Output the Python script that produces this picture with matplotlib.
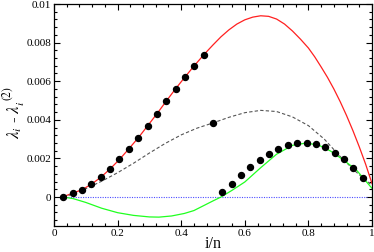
import matplotlib
matplotlib.use("Agg")
import matplotlib.pyplot as plt
from matplotlib.ticker import MultipleLocator, FuncFormatter

plt.rcParams['font.family'] = ['Liberation Serif', 'DejaVu Serif']
plt.rcParams['mathtext.fontset'] = 'stix'

n = 34
dot_i = list(range(1, 34))
dot_y = [0.00002, 0.0002, 0.00036, 0.00067, 0.00102, 0.00145, 0.00195, 0.00249,
         0.00307, 0.00368, 0.00432, 0.00497, 0.0056, 0.00622, 0.0068, 0.00737,
         0.00382, 0.00024, 0.00069, 0.00112, 0.00154, 0.0019, 0.00223, 0.00249,
         0.00268, 0.00278, 0.0028, 0.00275, 0.00257, 0.0023, 0.00197, 0.00152, 0.00097]

red_x = [0.029, 0.059, 0.088, 0.118, 0.147, 0.176, 0.206, 0.235, 0.265, 0.294, 0.324,
         0.353, 0.382, 0.412, 0.441, 0.471, 0.5, 0.525, 0.55, 0.575, 0.6, 0.625, 0.65,
         0.675, 0.7, 0.725, 0.75, 0.775, 0.8, 0.82, 0.84, 0.86, 0.88, 0.9, 0.92,
         0.94, 0.96, 0.98, 1.0]
red_y = [0.00002, 0.0002, 0.00038, 0.00067, 0.00102, 0.00145, 0.00195, 0.00249,
         0.00307, 0.00368, 0.00432, 0.00497, 0.0056, 0.00622, 0.0068, 0.00737,
         0.00788, 0.0083, 0.00866, 0.00896, 0.00918, 0.00932, 0.00939, 0.00936,
         0.00922, 0.00896, 0.0086, 0.00818, 0.00772, 0.00726, 0.00674, 0.0062,
         0.0056, 0.00494, 0.00422, 0.00344, 0.0026, 0.0017, 0.0007]

gray_x = [0.029, 0.06, 0.1, 0.15, 0.2, 0.25, 0.3, 0.35, 0.4, 0.45, 0.5, 0.55, 0.6,
          0.65, 0.7, 0.75, 0.8, 0.85, 0.9, 0.95, 1.0]
gray_y = [0.00001, 0.00015, 0.00043, 0.00082, 0.00126, 0.00175, 0.00228, 0.00278,
          0.00322, 0.00357, 0.00384, 0.00413, 0.00437, 0.00449, 0.00443, 0.00415,
          0.0037, 0.003, 0.0021, 0.0013, 0.0006]

green_x = [0.029, 0.06, 0.1, 0.15, 0.2, 0.25, 0.3, 0.33, 0.37, 0.41, 0.44, 0.47,
           0.5, 0.525, 0.56, 0.6, 0.65, 0.7, 0.75, 0.79, 0.83, 0.87, 0.91, 0.95, 1.0]
green_y = [0.0, -0.00008, -0.00028, -0.00058, -0.00081, -0.00095, -0.00103,
           -0.00104, -0.00098, -0.00085, -0.0007, -0.00045, -0.0002, 0.0, 0.00035,
           0.00078, 0.00152, 0.00222, 0.00268, 0.00279, 0.00271, 0.00238, 0.00192,
           0.00142, 0.00045]

zero_x = [0.029, 0.985]
zero_y = [0.0, 0.0]

xticks = [0, 0.2, 0.4, 0.6, 0.8, 1]
yticks = [0, 0.002, 0.004, 0.006, 0.008, 0.01]

fig = plt.figure(figsize=(3.74, 2.52), dpi=100)
ax = fig.add_axes([54/374, 1-226/252, (372-54)/374, (226-4)/252])

ax.plot(zero_x, zero_y, color='#4d4dff', lw=0.8, ls=(0, (1, 1.2)))
ax.plot(red_x, red_y, color='#ff2020', lw=0.9)
ax.plot(gray_x, gray_y, color='#555555', lw=0.8, ls=(0, (3, 2)))
ax.plot(green_x, green_y, color='#20ff20', lw=0.9)
ax.plot([i / n for i in dot_i], dot_y, 'o', color='black', ms=4.3, ls='none')

ax.set_xlim(0, 1)
ax.set_ylim(-0.0015, 0.01)
ax.set_xticks(xticks)
ax.set_yticks(yticks)
ax.xaxis.set_minor_locator(MultipleLocator(0.04))
ax.yaxis.set_minor_locator(MultipleLocator(0.0004))
fmt = FuncFormatter(lambda v, p: ('%g' % round(v, 6)))
ax.xaxis.set_major_formatter(fmt)
ax.yaxis.set_major_formatter(fmt)
ax.tick_params(which='both', direction='in', top=True, right=True, labelsize=8, width=0.8)
ax.tick_params(which='major', length=4.5, pad=2)
ax.tick_params(which='minor', length=2.5)
for s in ax.spines.values():
    s.set_linewidth(0.9)

ax.set_xlabel('i/n', fontsize=11.5, va='center')
ax.xaxis.set_label_coords(0.5, -0.08)
ax.set_ylabel(r'$\lambda_i$ - $\lambda_i^{\ (2)}$', fontsize=12, va='center')
ax.yaxis.set_label_coords(-0.128, 0.51)

fig.savefig('out.png', dpi=100)
